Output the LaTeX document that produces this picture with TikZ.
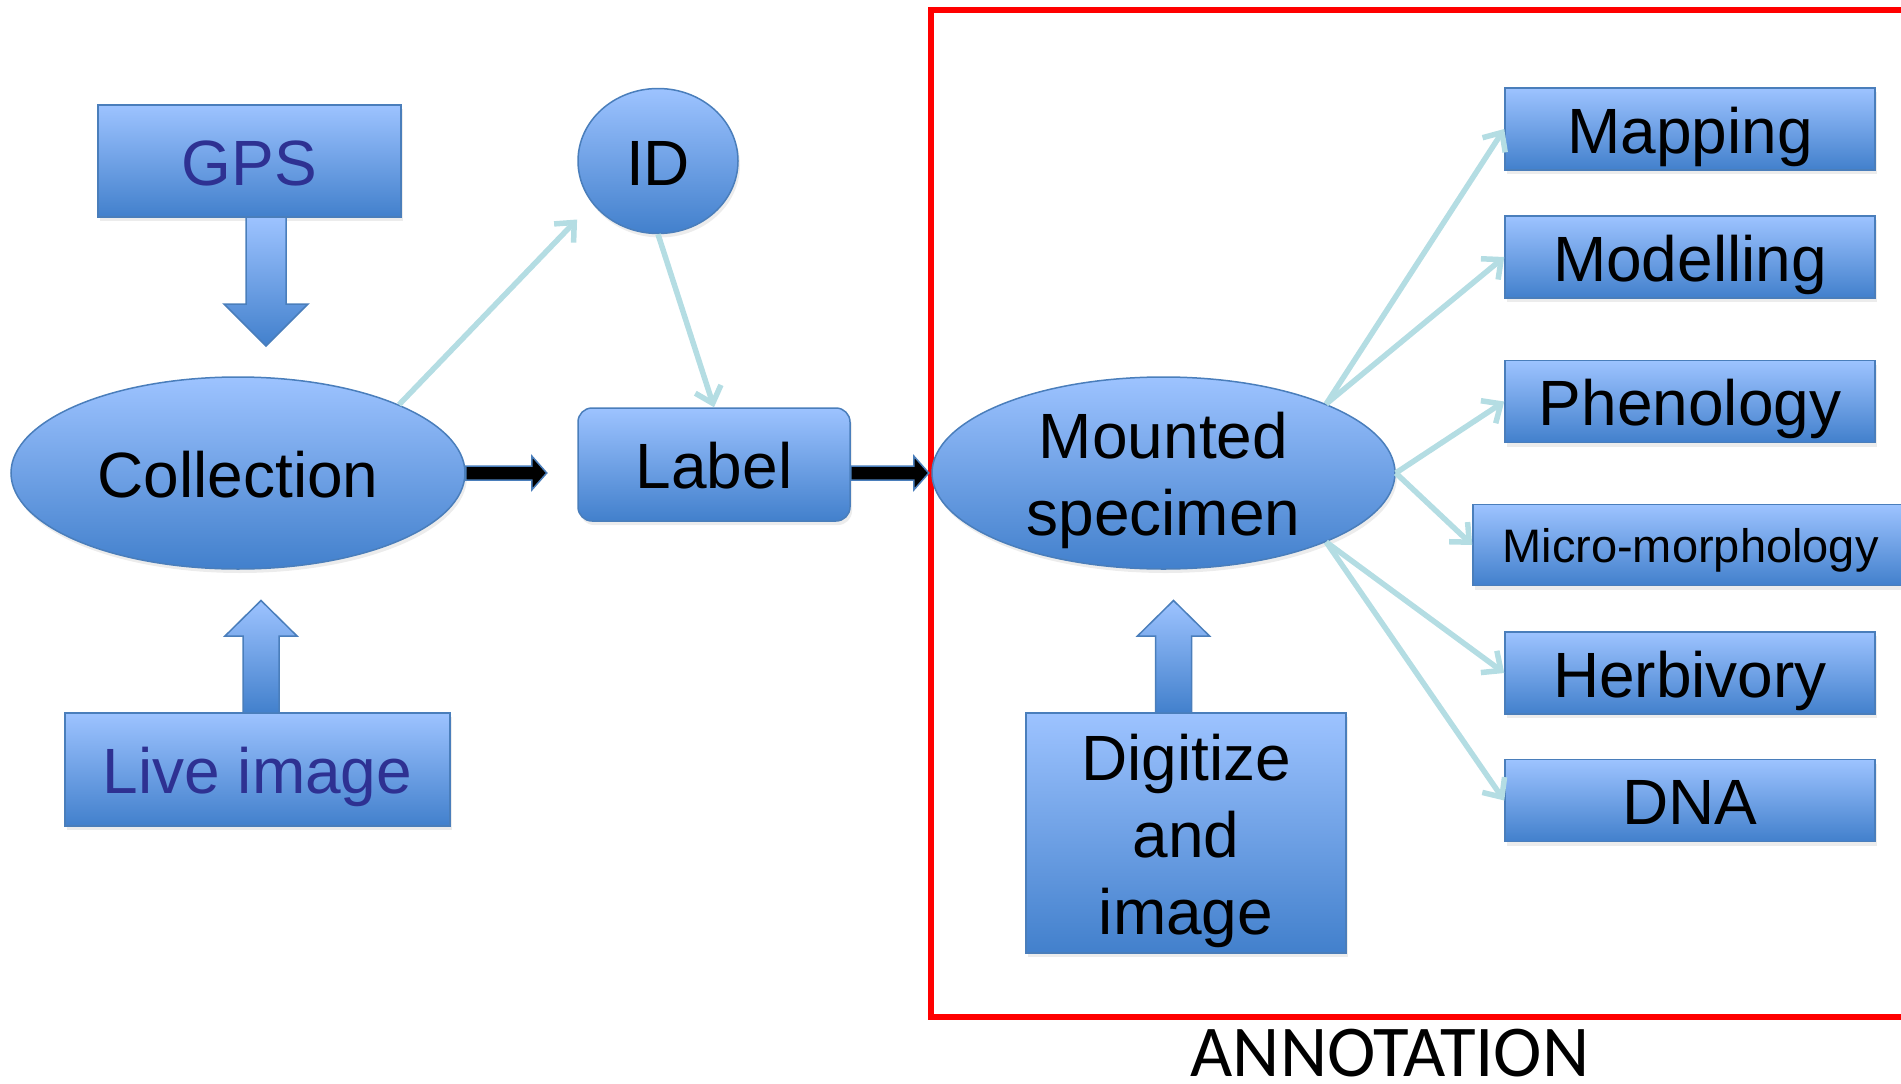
\documentclass[tikz,border=0pt]{standalone}
\usepackage{fontspec}
\setmainfont{Liberation Sans}
\newfontfamily\annofont{Carlito}
\usetikzlibrary{arrows.meta,shapes.geometric,shadows}

\definecolor{boxtop}{RGB}{157,195,255}
\definecolor{boxbottom}{RGB}{66,128,204}
\definecolor{boxline}{RGB}{74,126,187}
\definecolor{linkcol}{RGB}{180,221,227}
\definecolor{inktext}{RGB}{46,49,146}

\begin{document}
\begin{tikzpicture}[x=1pt, y=-1pt,
  every node/.style = {inner sep=0pt, align=center,
    font=\fontsize{64}{77}\selectfont},
  box/.style = {rectangle, draw=boxline, line width=1.5pt,
    top color=boxtop, bottom color=boxbottom,
    text height=48pt, text depth=0pt,
    drop shadow={shadow xshift=2pt, shadow yshift=-4pt, opacity=.15}},
  oval/.style = {box, ellipse},
  tall/.style = {text height={}, text depth={}},
  tag/.style = {box, minimum width=370pt, minimum height=82pt},
  link/.style = {draw=linkcol, line width=5.5pt,
    -{Straight Barb[length=15pt,width=27pt]}},
  fat/.style = {fill=black, draw=boxline, line width=1.5pt},
  block/.style = {top color=boxtop, bottom color=boxbottom,
    draw=boxline, line width=1.5pt}]
  \useasboundingbox (0,0) rectangle (1901,1084);

  % annotation frame
  \draw[red, line width=6pt] (931,9.5) rectangle (1915,1017);
  \node[font=\annofont\fontsize{73}{87}\selectfont, text depth=0pt, anchor=base]
    (annotation) at (1390,1076) {ANNOTATION};

  \node[box, text=inktext, minimum width=303pt, minimum height=112pt]
    (gps) at (249.5,161) {GPS};
  \node[box, text=inktext, minimum width=385pt, minimum height=113pt]
    (live) at (257.5,769.5) {Live image};
  \node[oval, minimum width=454pt, minimum height=192pt]
    (collection) at (238,473) {Collection};
  \node[oval, minimum width=160pt, minimum height=145pt]
    (id) at (658,161) {ID};
  \node[box, rounded corners=14pt, minimum width=272pt, minimum height=113pt]
    (label) at (714,464.5) {Label};
  \node[oval, tall, inner ysep=-14pt, minimum width=463pt, minimum height=192pt]
    (mounted) at (1163.5,473) {\rule{0pt}{62pt}Mounted\\specimen};
  \node[box, tall, minimum width=320pt, minimum height=240pt]
    (digitize) at (1186,833) {\rule{0pt}{62pt}Digitize\\and\\image};

  \node[tag] (mapping) at (1690,129) {Mapping};
  \node[tag] (modelling) at (1690,257) {Modelling};
  \node[tag] (phenology) at (1690,401.5) {Phenology};
  \node[tag, minimum width=435pt, minimum height=81pt, text height=34pt,
    font=\fontsize{47}{56}\selectfont] (micro) at (1690.5,545) {Micro-morphology};
  \node[tag] (herbivory) at (1690,673) {Herbivory};
  \node[tag] (dna) at (1690,800.5) {DNA};

  % block arrows
  \path[block] (246,217) -- (246,304) -- (224,304) -- (266,346)
    -- (308,304) -- (286,304) -- (286,217) -- cycle;
  \path[block] (243,713) -- (243,636) -- (225,636) -- (261,600.5)
    -- (297,636) -- (279,636) -- (279,713) -- cycle;
  \path[block] (1155.5,713) -- (1155.5,636) -- (1137.5,636) -- (1173.5,600.5)
    -- (1209.5,636) -- (1191.5,636) -- (1191.5,713) -- cycle;
  \path[fat] (collection.east) ++(0,-7) -- ++(66,0) -- ++(0,-10) -- ++(15,17)
    -- ++(-15,17) -- ++(0,-10) -- ++(-66,0) -- cycle;
  \path[fat] (label.east |- collection.east) ++(0,-7) -- ++(63,0) -- ++(0,-10)
    -- ++(15,17) -- ++(-15,17) -- ++(0,-10) -- ++(-63,0) -- cycle;

  % links
  \draw[link, shorten >=22pt] (collection.23) -- (id.213);
  \draw[link] (id.south) -- (label.north);
  \draw[link] (mounted.23) -- (mapping.west);
  \draw[link] (mounted.23) -- (modelling.west);
  \draw[link] (mounted.east) -- (phenology.west);
  \draw[link] (mounted.east) -- (micro.west);
  \draw[link] (mounted.-23) -- (herbivory.west);
  \draw[link] (mounted.-23) -- (dna.west);
\end{tikzpicture}
\end{document}
